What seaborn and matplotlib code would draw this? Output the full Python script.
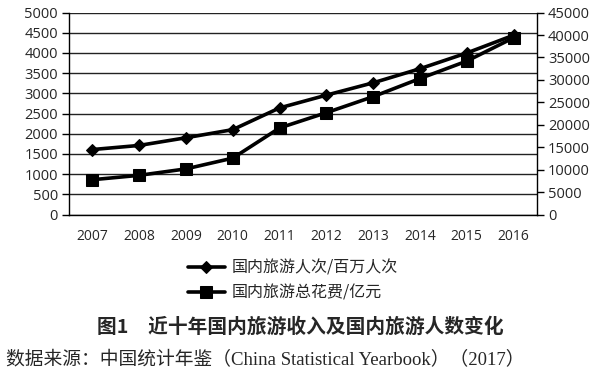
import numpy as np
import pandas as pd
import seaborn as sns
import matplotlib.pyplot as plt
from matplotlib.ticker import MultipleLocator

# data
years = [2007, 2008, 2009, 2010, 2011, 2012, 2013, 2014, 2015, 2016]
visits = [1610, 1712, 1902, 2103, 2641, 2957, 3262, 3611, 4000, 4440]          # 百万人次
spending = [7771, 8749, 10184, 12580, 19305, 22706, 26276, 30312, 34195, 39390]  # 亿元

label_visits = '国内旅游人次/百万人次'
label_spend = '国内旅游总花费/亿元'
title = '图1　近十年国内旅游收入及国内旅游人数变化'
source = '数据来源：中国统计年鉴（China Statistical Yearbook）（2017）'

df = pd.DataFrame({'year': years, 'visits': visits, 'spending': spending})

sns.set_style('white')
plt.rcParams['font.family'] = ['Open Sans', 'Noto Sans CJK SC', 'DejaVu Sans']

fig = plt.figure(figsize=(6, 3.7), dpi=100)
ax = fig.add_axes([0.115, 0.42, 0.78, 0.546])
ax2 = ax.twinx()

sns.lineplot(data=df, x='year', y='visits', ax=ax, color='black', lw=2.6,
             marker='D', markersize=7, markeredgecolor='black', label=label_visits, legend=False)
sns.lineplot(data=df, x='year', y='spending', ax=ax2, color='black', lw=2.6,
             marker='s', markersize=10, markeredgecolor='black', label=label_spend, legend=False)

ax.set_ylim(0, 5000)
ax2.set_ylim(0, 45000)
ax.set_xlim(2006.5, 2016.5)
ax.yaxis.set_major_locator(MultipleLocator(500))
ax2.yaxis.set_major_locator(MultipleLocator(5000))
ax.set_xticks(years)
ax.set_xticks(np.arange(2006.5, 2017, 1), minor=True)
ax.tick_params(axis='x', which='major', length=3, width=1, color='black', direction='inout', pad=9, labelsize=10)
ax.tick_params(axis='x', which='minor', length=6, width=1, color='black', direction='out')
ax.tick_params(axis='y', length=5, width=1, color='black', direction='out', left=True, labelsize=10.5, pad=3)
ax2.tick_params(axis='y', length=5, width=1, color='black', direction='out', right=True, labelsize=10.5, pad=3)
ax.grid(axis='y', color='#222222', lw=1)
ax.set_axisbelow(True)
ax.set_xlabel('')
ax.set_ylabel('')
ax2.set_ylabel('')

for a in (ax, ax2):
    a.spines['top'].set_visible(False)
    for s in ('left', 'right', 'bottom'):
        a.spines[s].set_color('black')
        a.spines[s].set_linewidth(1)
ax.spines['right'].set_visible(False)
ax2.spines['left'].set_visible(False)
ax2.spines['bottom'].set_visible(False)

h1, l1 = ax.get_legend_handles_labels()
h2, l2 = ax2.get_legend_handles_labels()
h1[0].set_markersize(6)
h2[0].set_markersize(9)
fig.legend(h1 + h2, l1 + l2, loc='center left', bbox_to_anchor=(0.313, 0.242),
           frameon=False, borderpad=0, borderaxespad=0, handlelength=2.3,
           labelspacing=0.47, handletextpad=0.45,
           prop={'family': ['Noto Sans CJK SC'], 'size': 11.5})

fig.text(0.5, 1 - 327 / 370, title, ha='center', va='center', fontsize=14.2, fontweight='bold',
         family=['Noto Sans CJK SC'])
fig.text(0.01, 1 - 360 / 370, source, ha='left', va='center', fontsize=13.5,
         family=['Liberation Serif', 'Noto Sans CJK SC'])

fig.savefig('out.png', dpi=100)
